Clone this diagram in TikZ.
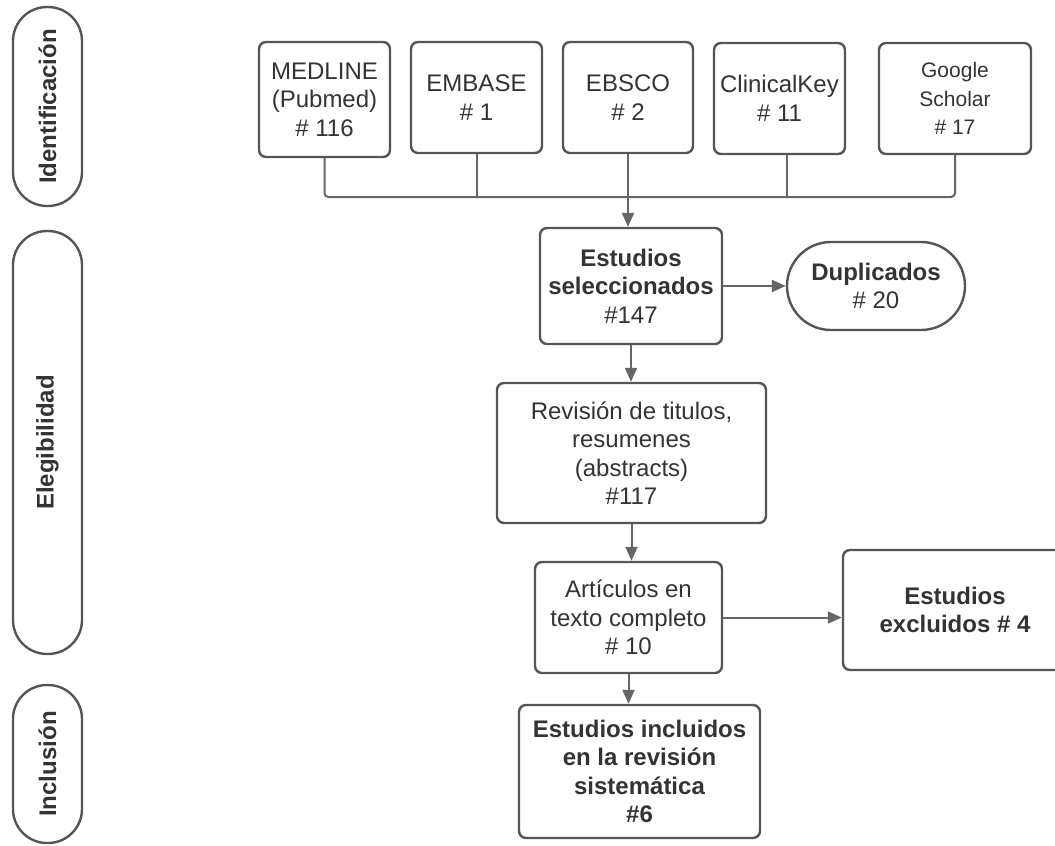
\documentclass[tikz,border=0pt]{standalone}
\usepackage{fontspec}
\setmainfont{Liberation Sans}
\usetikzlibrary{arrows.meta}
\definecolor{edgegray}{HTML}{555555}
\definecolor{linegray}{HTML}{666666}
\definecolor{textgray}{HTML}{333333}
\tikzset{
    box/.style={draw=edgegray, line width=2.4pt, rounded corners=7pt, fill=white, text=textgray,
        align=center, inner sep=0pt, font=\fontsize{24}{28.5}\selectfont},
    phase/.style={box, rotate=90, rounded corners=34pt, minimum height=69pt,
        font=\bfseries\fontsize{24}{28.5}\selectfont},
    flow/.style={draw=linegray, line width=2pt, -{Triangle[length=14pt,width=12pt]}},
    bus/.style={draw=linegray, line width=2pt, rounded corners=4pt},
}

\begin{document}
\begin{tikzpicture}[x=1pt, y=-1pt]
    \useasboundingbox (0,0) rectangle (1055,846);
    \clip (0,0) rectangle (1055,846);

    % Phases
    \node[phase, minimum width=199pt] (idn) at (47.5, 106.5) {Identificación};
    \node[phase, minimum width=423pt] (ele) at (47.5, 442.5) {Elegibilidad};
    \node[phase, minimum width=158pt] (inl) at (47.5, 764) {Inclusión};

    % Sources
    \node[box, minimum width=131pt, minimum height=115pt] (med) at (324.5, 99.5) {MEDLINE\\(Pubmed)\\\# 116};
    \node[box, minimum width=131pt, minimum height=111pt] (emb) at (476.5, 97.5) {EMBASE\\\# 1};
    \node[box, minimum width=130pt, minimum height=111pt] (ebs) at (628, 97.5) {EBSCO\\\# 2};
    \node[box, minimum width=131pt, minimum height=111pt] (ck) at (779.5, 98.5) {ClinicalKey\\\# 11};
    \node[box, minimum width=152pt, minimum height=111pt, font=\fontsize{21}{28.5}\selectfont] (gs) at (955, 98.5) {Google\\Scholar\\\# 17};

    % Screening
    \node[box, minimum width=182pt, minimum height=116pt] (sel) at (631, 286) {\textbf{Estudios}\\\textbf{seleccionados}\\\#147};
    \node[box, rounded corners=44pt, minimum width=178pt, minimum height=88pt] (dup) at (876, 286) {\textbf{Duplicados}\\\# 20};
    \node[box, minimum width=269pt, minimum height=140pt] (rev) at (631.5, 453) {Revisión de titulos,\\resumenes\\(abstracts)\\\#117};
    \node[box, minimum width=187pt, minimum height=111pt] (art) at (628.5, 617.5) {Artículos en\\texto completo\\\# 10};
    \node[box, minimum width=224pt, minimum height=120pt, font=\bfseries\fontsize{24}{28.5}\selectfont] (exc) at (955, 610) {Estudios\\excluidos \# 4};

    % Included
    \node[box, minimum width=241pt, minimum height=133pt, font=\bfseries\fontsize{24}{28.5}\selectfont] (inc) at (639.5, 771.5) {Estudios incluidos\\en la revisión\\sistemática\\\#6};

    % Merge line
    \coordinate (busline) at (0, 197);
    \coordinate (cktap) at ([xshift=7.5pt]ck.south);
    \draw[bus] (med.south) -- (med.south |- busline) -| (gs.south);
    \draw[bus] (emb.south) -- (emb.south |- busline);
    \draw[bus] (cktap) -- (cktap |- busline);

    \draw[flow] (ebs.south) -- (ebs.south |- sel.north);
    \draw[flow] (sel.east) -- (dup.west);
    \draw[flow] (sel.south) -- (sel.south |- rev.north);
    \draw[flow] (rev.south) -- (rev.south |- art.north);
    \draw[flow] (art.east) -- (art.east -| exc.west);
    \draw[flow] (art.south) -- (art.south |- inc.north);
\end{tikzpicture}
\end{document}
